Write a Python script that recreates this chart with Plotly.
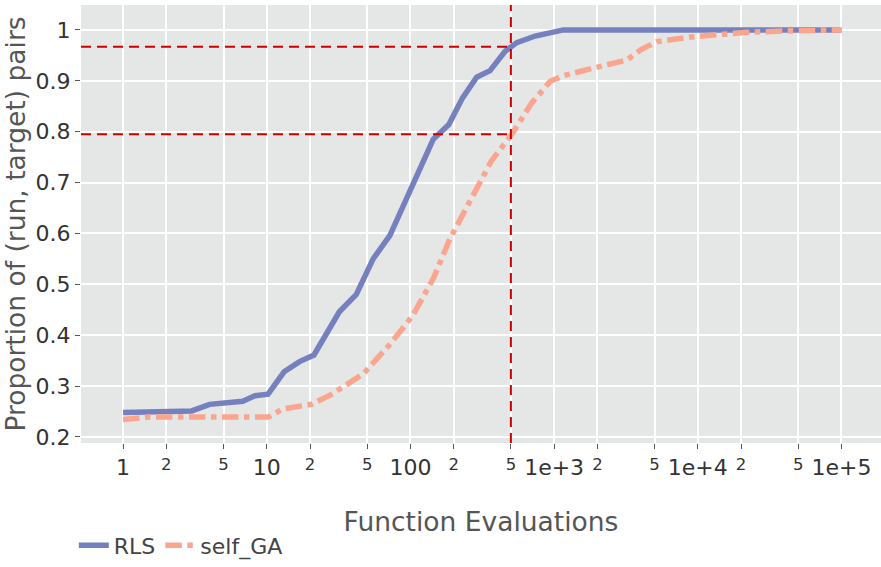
import numpy as np
import plotly.graph_objects as go

# ---- data ----
rls_x = [1, 3, 4, 6.8, 8.3, 10.2, 13.2, 16.9, 21.3, 27.4, 32, 42, 55, 72, 104, 144, 185, 230,
         289, 358, 456, 550, 738, 939, 1160, 100000]
rls_y = [0.248, 0.251, 0.264, 0.270, 0.281, 0.284, 0.328, 0.348, 0.361, 0.413, 0.446, 0.480,
         0.550, 0.596, 0.693, 0.785, 0.814, 0.866, 0.907, 0.920, 0.958, 0.975, 0.988, 0.993,
         1.0, 1.0]

ga_x = [1, 1.5, 10.3, 12.9, 20.5, 28, 47, 72, 104, 144, 188, 262, 365, 508, 700, 939, 1160,
        1880, 3220, 4000, 5200, 8900, 13700, 21000, 40000, 100000]
ga_y = [0.234, 0.239, 0.239, 0.255, 0.264, 0.283, 0.324, 0.382, 0.439, 0.511, 0.589, 0.668,
        0.742, 0.795, 0.857, 0.899, 0.910, 0.925, 0.941, 0.961, 0.977, 0.986, 0.990, 0.995,
        0.998, 1.0]

ref_x = 500
ref_y_rls = 0.967
ref_y_ga = 0.795

x_range_log = [-0.293, 5.275]
y_range = [0.188, 1.049]

FONT = "DejaVu Sans"

fig = go.Figure()
fig.add_trace(go.Scatter(x=rls_x, y=rls_y, mode="lines", name="RLS",
                         line=dict(color="rgb(117,129,191)", width=5.5)))
fig.add_trace(go.Scatter(x=ga_x, y=ga_y, mode="lines", name="self_GA",
                         line=dict(color="rgb(250,166,143)", width=5.5, dash="dashdot")))

red = dict(color="rgb(204,0,0)", width=2, dash="10px,6px")
xmin = 10 ** x_range_log[0]
for yv in (ref_y_rls, ref_y_ga):
    fig.add_trace(go.Scatter(x=[xmin, ref_x], y=[yv, yv], mode="lines", line=red,
                             showlegend=False, hoverinfo="skip"))
fig.add_trace(go.Scatter(x=[ref_x, ref_x], y=y_range, mode="lines", line=red,
                         showlegend=False, hoverinfo="skip"))

fig.update_layout(
    width=881, height=567,
    margin=dict(l=81, r=0, t=5, b=122),
    paper_bgcolor="white",
    plot_bgcolor="rgb(229,230,230)",
    font=dict(family=FONT, color="#444"),
    legend=dict(orientation="h", x=-0.009, xanchor="left", y=-0.234, yanchor="middle",
                font=dict(family=FONT, size=22, color="#444"), itemwidth=30),
    xaxis=dict(type="log", range=x_range_log, dtick="D2", exponentformat="e",
               showgrid=True, gridcolor="white", gridwidth=1.5, zeroline=False,
               ticks="outside", ticklen=5, tickcolor="#555", showline=False,
               tickfont=dict(family=FONT, size=22, color="#333"),
               title=dict(text="Function Evaluations",
                          font=dict(family=FONT, size=26.5, color="#555"), standoff=33)),
    yaxis=dict(range=y_range, dtick=0.1, tick0=0, showgrid=True, gridcolor="white",
               gridwidth=1.5, zeroline=False, ticks="outside", ticklen=5, tickcolor="#555",
               tickfont=dict(family=FONT, size=22, color="#333"),
               title=dict(text="Proportion of (run, target) pairs",
                          font=dict(family=FONT, size=26.5, color="#555"), standoff=4)),
)

fig.write_html("out.html")
